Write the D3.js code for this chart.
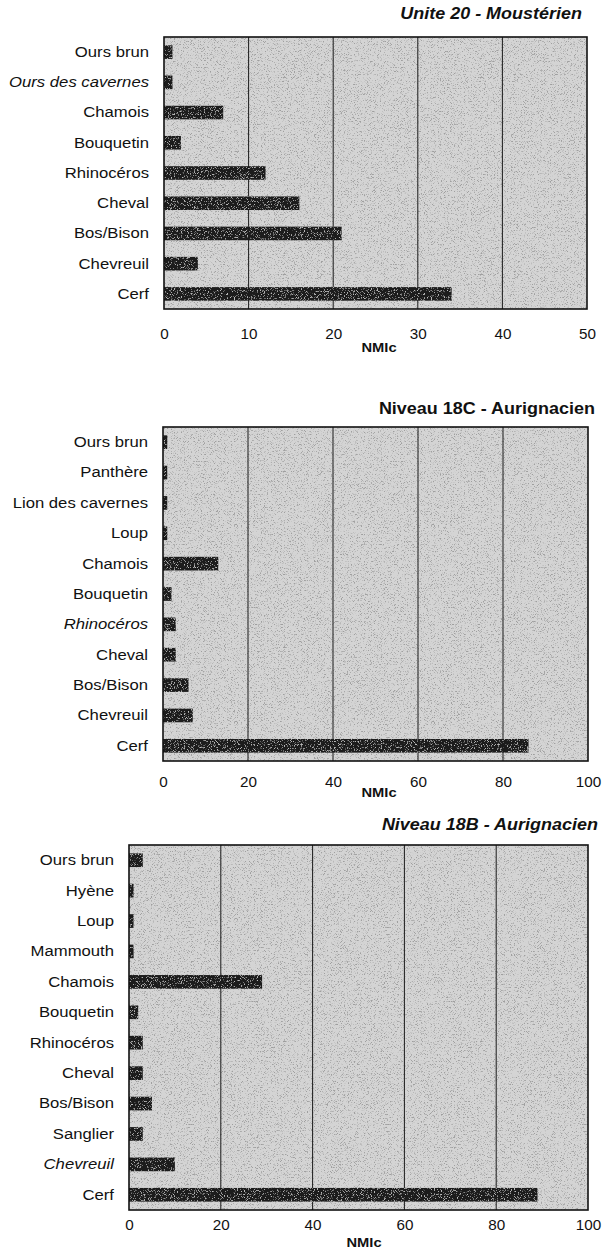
<!DOCTYPE html>
<html>
<head>
<meta charset="utf-8">
<script src="https://cdn.jsdelivr.net/npm/d3@7/dist/d3.min.js"></script>
<style>
  html, body { margin: 0; padding: 0; background: #ffffff; }
  svg { display: block; }
  text { font-family: "Liberation Sans", Arial, Helvetica, sans-serif; fill: #111; }
</style>
</head>
<body>
<svg id="chart" width="602" height="1251"></svg>
<script>
// ---------- DATA ----------
const titles = ["Unite 20 - Moustérien", "Niveau 18C - Aurignacien", "Niveau 18B - Aurignacien"];
const axisLabel = "NMIc";

const cats1 = ["Ours brun", "Ours des cavernes", "Chamois", "Bouquetin", "Rhinocéros", "Cheval", "Bos/Bison", "Chevreuil", "Cerf"];
const vals1 = [1, 1, 7, 2, 12, 16, 21, 4, 34];
const ticks1 = [0, 10, 20, 30, 40, 50];
const italic1 = ["Ours des cavernes"];

const cats2 = ["Ours brun", "Panthère", "Lion des cavernes", "Loup", "Chamois", "Bouquetin", "Rhinocéros", "Cheval", "Bos/Bison", "Chevreuil", "Cerf"];
const vals2 = [1, 1, 1, 1, 13, 2, 3, 3, 6, 7, 86];
const ticks2 = [0, 20, 40, 60, 80, 100];
const italic2 = ["Rhinocéros"];

const cats3 = ["Ours brun", "Hyène", "Loup", "Mammouth", "Chamois", "Bouquetin", "Rhinocéros", "Cheval", "Bos/Bison", "Sanglier", "Chevreuil", "Cerf"];
const vals3 = [3, 1, 1, 1, 29, 2, 3, 3, 5, 3, 10, 89];
const ticks3 = [0, 20, 40, 60, 80, 100];
const italic3 = ["Chevreuil"];

// ---------- LAYOUT ----------
const SX = 1.09; // horizontal stretch of the scanned lettering
const panels = [
  { cats: cats1, vals: vals1, ticks: ticks1, italic: italic1, title: titles[0], titleItalic: true,
    left: 164, right: 587, top: 37, bottom: 309, titleX: 582, titleY: 19, tickY: 339, nmY: 352, nmX: 379 },
  { cats: cats2, vals: vals2, ticks: ticks2, italic: italic2, title: titles[1], titleItalic: false,
    left: 163, right: 588, top: 427, bottom: 761, titleX: 595, titleY: 414, tickY: 787, nmY: 797, nmX: 379 },
  { cats: cats3, vals: vals3, ticks: ticks3, italic: italic3, title: titles[2], titleItalic: true,
    left: 129, right: 588, top: 845, bottom: 1210, titleX: 598, titleY: 830, tickY: 1230, nmY: 1247, nmX: 364 }
];

const svg = d3.select("#chart");
const defs = svg.append("defs");

function mergeFilter(id, freq, seed, colorVals) {
  const f = defs.append("filter").attr("id", id)
    .attr("x", 0).attr("y", 0).attr("width", "100%").attr("height", "100%");
  f.append("feTurbulence").attr("type", "fractalNoise").attr("baseFrequency", freq)
    .attr("numOctaves", 1).attr("seed", seed).attr("result", "noise");
  f.append("feColorMatrix").attr("in", "noise").attr("type", "matrix")
    .attr("values", colorVals).attr("result", "dots");
  f.append("feComposite").attr("in", "dots").attr("in2", "SourceGraphic").attr("operator", "in").attr("result", "d2");
  const m = f.append("feMerge");
  m.append("feMergeNode").attr("in", "SourceGraphic");
  m.append("feMergeNode").attr("in", "d2");
}
// gray speckles on light background
mergeFilter("speckle", 1.3, 7, "0 0 0 0 0.35  0 0 0 0 0.35  0 0 0 0 0.35  -6 0 0 0 2.75");
// light speckles on dark bars
mergeFilter("speckleBar", 1.3, 3, "0 0 0 0 0.5  0 0 0 0 0.5  0 0 0 0 0.5  6 0 0 0 -3.4");

panels.forEach((p) => {
  const g = svg.append("g");
  const x = d3.scaleLinear().domain([p.ticks[0], p.ticks[p.ticks.length - 1]]).range([p.left, p.right]);
  const y = d3.scaleBand().domain(p.cats).range([p.top, p.bottom]).paddingInner(0.55).paddingOuter(0.275);

  // title
  g.append("text").attr("transform", `translate(${p.titleX},${p.titleY}) scale(${SX},1)`)
    .attr("text-anchor", "end")
    .style("font-size", "16.5px").style("font-weight", "bold")
    .style("font-style", p.titleItalic ? "italic" : "normal")
    .text(p.title);

  // plot background
  g.append("rect").attr("x", p.left).attr("y", p.top)
    .attr("width", p.right - p.left).attr("height", p.bottom - p.top)
    .attr("fill", "#d4d4d4").attr("filter", "url(#speckle)");

  // gridlines
  g.append("g").selectAll("line").data(p.ticks.slice(1, -1)).join("line")
    .attr("x1", d => x(d)).attr("x2", d => x(d))
    .attr("y1", p.top).attr("y2", p.bottom)
    .attr("stroke", "#1a1a1a").attr("stroke-width", 1);

  // bars
  g.append("g").selectAll("rect").data(p.cats).join("rect")
    .attr("x", x(0)).attr("y", d => y(d))
    .attr("width", (d, i) => x(p.vals[i]) - x(0))
    .attr("height", y.bandwidth())
    .attr("fill", "#1c1c1c").attr("filter", "url(#speckleBar)");

  // frame
  g.append("rect").attr("x", p.left).attr("y", p.top)
    .attr("width", p.right - p.left).attr("height", p.bottom - p.top)
    .attr("fill", "none").attr("stroke", "#111").attr("stroke-width", 1.6);

  // category labels
  const yAxis = d3.axisLeft(y).tickSize(0).tickPadding(15 / SX);
  const ya = g.append("g").attr("transform", `translate(${p.left},0)`).call(yAxis);
  ya.select(".domain").remove();
  ya.selectAll("text")
    .attr("transform", `scale(${SX},1)`)
    .style("font-size", "15.3px")
    .style("font-family", "'Liberation Sans', Arial, sans-serif")
    .style("font-style", d => p.italic.includes(d) ? "italic" : "normal")
    .attr("fill", "#111");

  // x tick labels
  const xAxis = d3.axisBottom(x).tickValues(p.ticks).tickSize(0).tickPadding(0);
  const xa = g.append("g").attr("transform", `translate(0,${p.tickY})`).call(xAxis);
  xa.select(".domain").remove();
  xa.selectAll("text").attr("dy", 0).attr("y", 0)
    .attr("transform", `scale(${SX},1)`)
    .style("font-size", "14px")
    .style("font-family", "'Liberation Sans', Arial, sans-serif")
    .attr("fill", "#111");

  // axis title
  g.append("text").attr("transform", `translate(${p.nmX},${p.nmY}) scale(${SX},1)`)
    .attr("text-anchor", "middle")
    .style("font-size", "13.5px").style("font-weight", "bold").text(axisLabel);
});
</script>
</body>
</html>
